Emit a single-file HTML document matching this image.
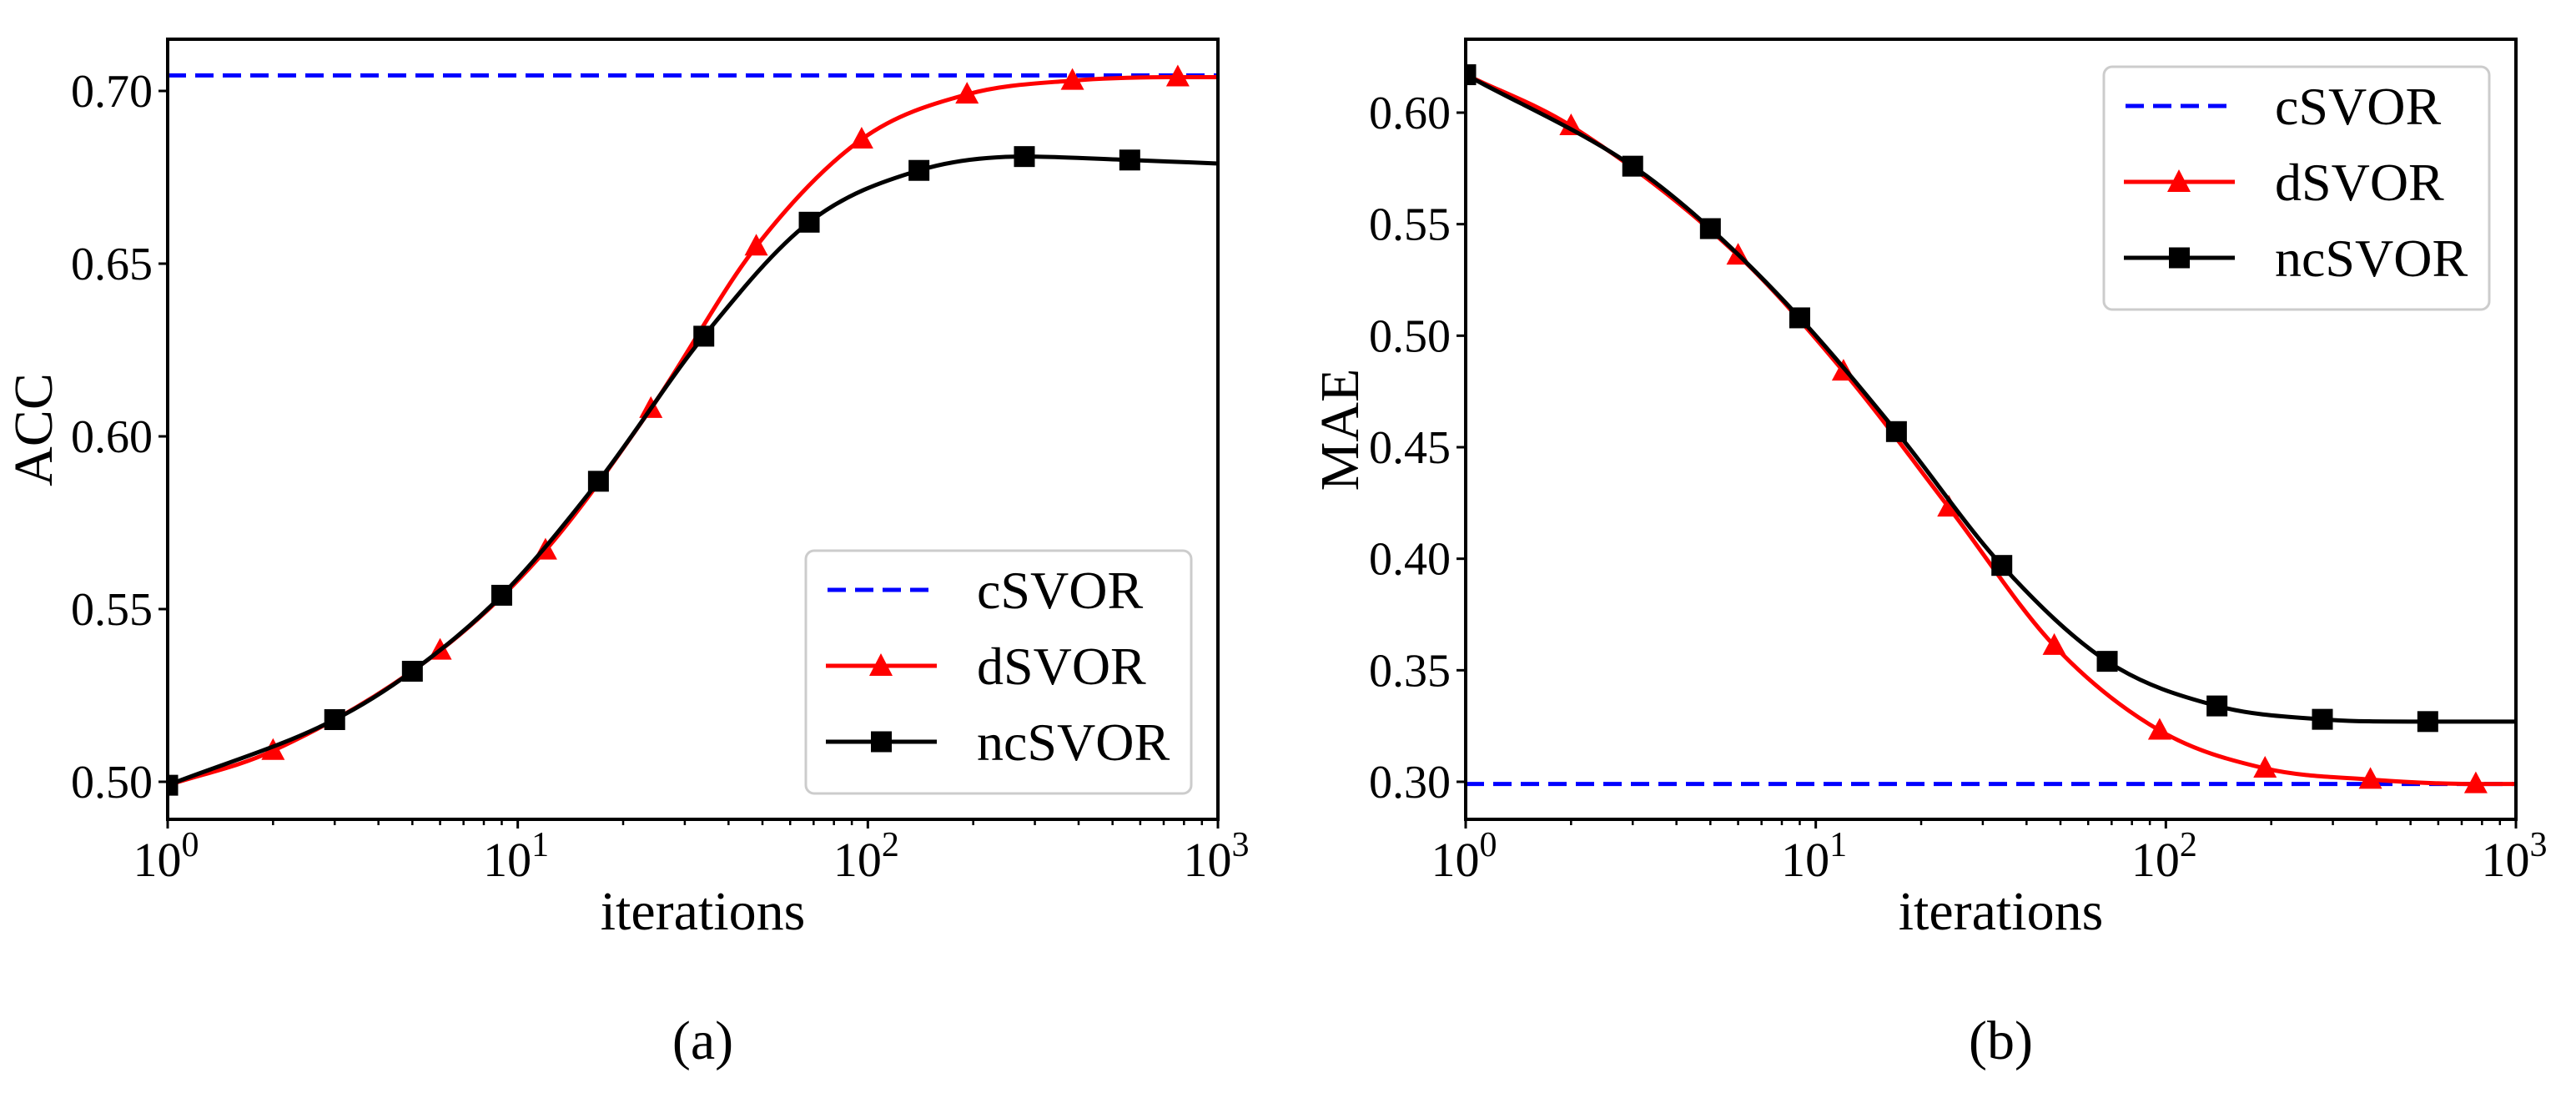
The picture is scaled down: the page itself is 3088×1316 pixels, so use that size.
<!DOCTYPE html>
<html><head><meta charset="utf-8">
<style>
html,body{margin:0;padding:0;background:#fff;}
svg{display:block;font-family:"Liberation Serif","DejaVu Serif",serif;}
</style></head>
<body>
<svg id="fig" width="3088" height="1316" viewBox="0 0 3088 1316" xmlns="http://www.w3.org/2000/svg">
<rect width="3088" height="1316" fill="#fff"/>
<g id="panelA"></g>
<g id="panelB"></g>
</svg>
<script>
// ---- data ----
const ncX = [1,3,5,9,17,34,68,140,280,560,1000];
const ncAcc = [0.499,0.518,0.532,0.554,0.587,0.629,0.662,0.677,0.681,0.680,0.679];
const ncMae = [0.617,0.576,0.548,0.508,0.457,0.397,0.354,0.334,0.328,0.327,0.327];
const dX = [1,2,6,12,24,48,96,192,384,768,1000];
const dAcc = [0.499,0.509,0.538,0.567,0.608,0.655,0.686,0.699,0.703,0.704,0.704];
const dMae = [0.617,0.594,0.536,0.484,0.423,0.361,0.323,0.306,0.301,0.299,0.299];
const cAcc = 0.7045;
const cMae = 0.299;
const accTicks = [0.50,0.55,0.60,0.65,0.70];
const maeTicks = [0.30,0.35,0.40,0.45,0.50,0.55,0.60];
const xExps = [0,1,2,3];
const seriesNames = ["cSVOR","dSVOR","ncSVOR"];

const NS="http://www.w3.org/2000/svg";
function mk(parent,tag,attrs,text){const e=document.createElementNS(NS,tag);for(const k in attrs)e.setAttribute(k,attrs[k]);if(text!==undefined)e.textContent=text;parent.appendChild(e);return e;}

function monoPath(pts){
  const n=pts.length;const dx=[],m=[],t=new Array(n);
  for(let i=0;i<n-1;i++){dx.push(pts[i+1][0]-pts[i][0]);m.push((pts[i+1][1]-pts[i][1])/dx[i]);}
  t[0]=m[0];t[n-1]=m[n-2];
  for(let i=1;i<n-1;i++){if(m[i-1]*m[i]<=0)t[i]=0;else{t[i]=(m[i-1]+m[i])/2;}}
  let d="M"+pts[0][0]+","+pts[0][1];
  for(let i=0;i<n-1;i++){const h=dx[i]/3;
    d+=" C"+(pts[i][0]+h)+","+(pts[i][1]+t[i]*h)+" "+(pts[i+1][0]-h)+","+(pts[i+1][1]-t[i+1]*h)+" "+pts[i+1][0]+","+pts[i+1][1];}
  return d;
}

function panel(g,cfg){
  const L=cfg.L,R=cfg.R,T=47,B=982;
  const sx=v=>L+(Math.log10(v))/3*(R-L);
  const sy=v=>cfg.y0+(v-cfg.v0)*(cfg.y1-cfg.y0)/(cfg.v1-cfg.v0);
  const clip="clip"+cfg.id;
  const cp=mk(g,"clipPath",{id:clip});mk(cp,"rect",{x:L,y:T,width:R-L,height:B-T});
  const c=mk(g,"line",{x1:L,x2:R,y1:sy(cfg.c),y2:sy(cfg.c),stroke:"#0000ff","stroke-width":5,"stroke-dasharray":"22,11","clip-path":"url(#"+clip+")"});
  
  
  const dp=mk(g,"path",{d:monoPath(dX.map((x,i)=>[sx(x),sy(cfg.d[i])])),fill:"none",stroke:"#ff0000","stroke-width":5,"clip-path":"url(#"+clip+")"});
  
  
  for(let i=1;i<dX.length-1;i++){const x=sx(dX[i]),y=sy(cfg.d[i]);
    const tr=mk(g,"polygon",{points:(x)+","+(y-15)+" "+(x-14)+","+(y+11)+" "+(x+14)+","+(y+11),fill:"#ff0000"});
    
    }
  const np=mk(g,"path",{d:monoPath(ncX.map((x,i)=>[sx(x),sy(cfg.n[i])])),fill:"none",stroke:"#000","stroke-width":5,"clip-path":"url(#"+clip+")"});
  
  
  for(let i=0;i<ncX.length-1;i++){const x=sx(ncX[i]),y=sy(cfg.n[i]);
    const sq=mk(g,"rect",{x:x-12.5,y:y-12.5,width:25,height:25,fill:"#000","clip-path":"url(#"+clip+")"});
    
    }
  const fr=mk(g,"rect",{x:L,y:T,width:R-L,height:B-T,fill:"none",stroke:"#000","stroke-width":4});
  
  
  cfg.ticks.forEach(v=>{const y=sy(v);
    mk(g,"line",{x1:L-11,x2:L,y1:y,y2:y,stroke:"#000","stroke-width":3});
    const t=mk(g,"text",{x:L-18,y:y+19,"text-anchor":"end","font-size":56},v.toFixed(2));
    
    });
  xExps.forEach(e=>{const x=sx(Math.pow(10,e));
    mk(g,"line",{x1:x,x2:x,y1:B,y2:B+11,stroke:"#000","stroke-width":3});
    const t=mk(g,"text",{x:x-2,y:B+68,"text-anchor":"middle","font-size":58});
    
    
    mk(t,"tspan",{},"10");mk(t,"tspan",{dy:-24,"font-size":42},String(e));
    if(e<3)for(let k=2;k<=9;k++){const xm=sx(k*Math.pow(10,e));
      mk(g,"line",{x1:xm,x2:xm,y1:B,y2:B+7,stroke:"#000","stroke-width":2.5});}
  });
  const xl=mk(g,"text",{x:(L+R)/2+12,y:1114,"text-anchor":"middle","font-size":66},"iterations");
  
  
  const yl=mk(g,"text",{x:cfg.ylx,y:515,"text-anchor":"middle","font-size":66,transform:"rotate(-90 "+cfg.ylx+" 515)"},cfg.ylabel);
  
  
  const cap=mk(g,"text",{x:(L+R)/2+12,y:1269,"text-anchor":"middle","font-size":66},cfg.cap);
  
  
  const lx=cfg.lx,ly=cfg.ly;
  const lg=mk(g,"g",{});
  
  
  mk(lg,"rect",{x:lx,y:ly,width:462,height:291,rx:10,fill:"#fff",stroke:"#cccccc","stroke-width":3});
  const rows=[ly+47,ly+138,ly+229];
  mk(lg,"line",{x1:lx+26,x2:lx+158,y1:rows[0],y2:rows[0],stroke:"#0000ff","stroke-width":5,"stroke-dasharray":"22,11"});
  mk(lg,"line",{x1:lx+24,x2:lx+157,y1:rows[1],y2:rows[1],stroke:"#ff0000","stroke-width":5});
  mk(lg,"polygon",{points:(lx+90)+","+(rows[1]-15)+" "+(lx+76)+","+(rows[1]+12)+" "+(lx+104)+","+(rows[1]+12),fill:"#ff0000"});
  mk(lg,"line",{x1:lx+24,x2:lx+157,y1:rows[2],y2:rows[2],stroke:"#000","stroke-width":5});
  mk(lg,"rect",{x:lx+78,y:rows[2]-12.5,width:25,height:25,fill:"#000"});
  seriesNames.forEach((s,i)=>{const t=mk(lg,"text",{x:lx+205,y:rows[i]+22,"font-size":64},s);
    
    });
}
panel(document.getElementById("panelA"),{id:"A",L:201,R:1460,v0:0.70,y0:109,v1:0.50,y1:937,c:cAcc,d:dAcc,n:ncAcc,ticks:accTicks,ylabel:"ACC",ylx:62,cap:"(a)",lx:966,ly:660});
panel(document.getElementById("panelB"),{id:"B",L:1757,R:3016,v0:0.60,y0:135,v1:0.30,y1:937,c:cMae,d:dMae,n:ncMae,ticks:maeTicks,ylabel:"MAE",ylx:1628,cap:"(b)",lx:2522,ly:80});
</script>
</body></html>
